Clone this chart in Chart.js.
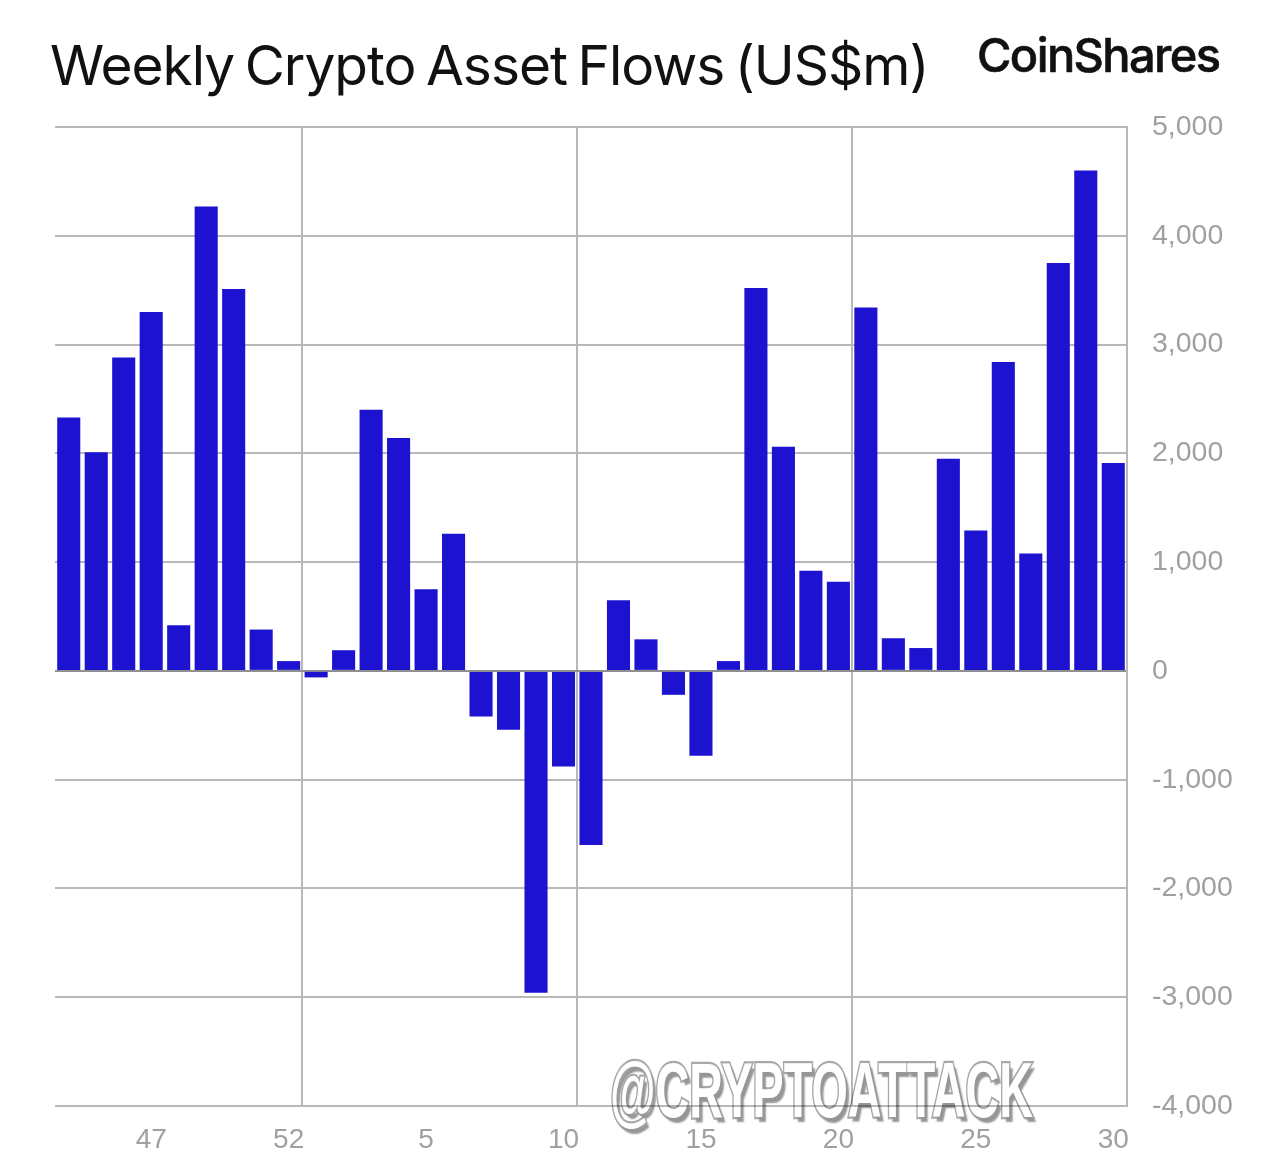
<!DOCTYPE html>
<html>
<head>
<meta charset="utf-8">
<title>Weekly Crypto Asset Flows</title>
<script src="https://cdn.jsdelivr.net/npm/chart.js@4/dist/chart.umd.min.js"></script>
<style>
    html, body { margin: 0; padding: 0; background: #fff; }
    #wrap { position: relative; width: 1269px; height: 1164px; overflow: hidden; }
    #flowChart { position: absolute; left: 0; top: 0; }
    .label { position: absolute; white-space: nowrap; }
    #title { left: 50px; top: 32px; font: 400 55px Inter, sans-serif; color: #111; letter-spacing: -1px; word-spacing: -4px; }
    #logo { left: 977px; top: 26px; font: 500 47px Inter, sans-serif; color: #111; letter-spacing: -1.6px; -webkit-text-stroke: 0.6px #111; }
    #stamp {
        left: 610px; top: 1047px;
        font: 700 70px "Liberation Sans", sans-serif;
        color: #fff;
        -webkit-text-stroke: 4px #a8a8a8;
        paint-order: stroke fill;
        text-shadow: 5px 4px 2px #969696;
        mix-blend-mode: multiply;
        transform-origin: left top;
        transform: scale(0.668, 1.1);
    }
</style>
</head>
<body>
<div id="wrap">
    <canvas id="flowChart" width="1269" height="1164"></canvas>
    <div class="label" id="title">Weekly Crypto Asset Flows (US$m)</div>
    <div class="label" id="logo">CoinShares</div>
    <div class="label" id="stamp">@CRYPTOATTACK</div>
</div>
<script>
const weeks = [44, 45, 46, 47, 48, 49, 50, 51, 52,
    1, 2, 3, 4, 5, 6, 7, 8, 9, 10,
    11, 12, 13, 14, 15, 16, 17, 18, 19, 20,
    21, 22, 23, 24, 25, 26, 27, 28, 29, 30];
const flows = [2330, 2010, 2880, 3300, 420, 4270, 3510, 380, 90,
    -60, 190, 2400, 2140, 750, 1260, -420, -540, -2960, -880,
    -1600, 650, 290, -220, -780, 90, 3520, 2060, 920, 820,
    3340, 300, 210, 1950, 1290, 2840, 1080, 3750, 4600, 1910];
const labelledWeeks = [47, 52, 5, 10, 15, 20, 25, 30];
const dividerWeeks = [1, 11, 21]; // vertical lines sit just left of these bars

const gridColor = '#b8b8b8';
const tickColor = '#a0a0a0';

const ctx = document.getElementById('flowChart').getContext('2d');
new Chart(ctx, {
    type: 'bar',
    data: {
        labels: weeks,
        datasets: [{
            data: flows,
            backgroundColor: '#1c12cf',
            barPercentage: 0.84,
            categoryPercentage: 1
        }]
    },
    options: {
        responsive: false,
        animation: false,
        layout: { padding: { left: 55, top: 127, right: 0, bottom: 0 } },
        plugins: { legend: { display: false }, tooltip: { enabled: false } },
        scales: {
            x: {
                grid: {
                    offset: true,
                    drawTicks: false,
                    lineWidth: 2,
                    color: c => dividerWeeks.includes(weeks[c.index]) && c.index > 0 ? gridColor : 'transparent'
                },
                border: { display: false },
                ticks: {
                    autoSkip: false,
                    maxRotation: 0,
                    padding: 17,
                    color: tickColor,
                    font: { family: '"Liberation Sans", sans-serif', size: 28 },
                    callback: function (value, index) {
                        return labelledWeeks.includes(weeks[index]) ? String(weeks[index]) : '';
                    }
                },
                afterFit: scale => { scale.height = 58; }
            },
            y: {
                position: 'right',
                min: -4000,
                max: 5000,
                grid: {
                    drawTicks: false,
                    lineWidth: 2,
                    color: c => c.tick.value === 0 ? '#8f8f8f' : gridColor
                },
                border: { display: true, color: gridColor, width: 2 },
                ticks: {
                    stepSize: 1000,
                    padding: 25,
                    color: tickColor,
                    font: { family: '"Liberation Sans", sans-serif', size: 28.5 },
                    callback: value => value.toLocaleString('en-US')
                },
                afterFit: scale => { scale.width = 142; }
            }
        }
    }
});
</script>
</body>
</html>
